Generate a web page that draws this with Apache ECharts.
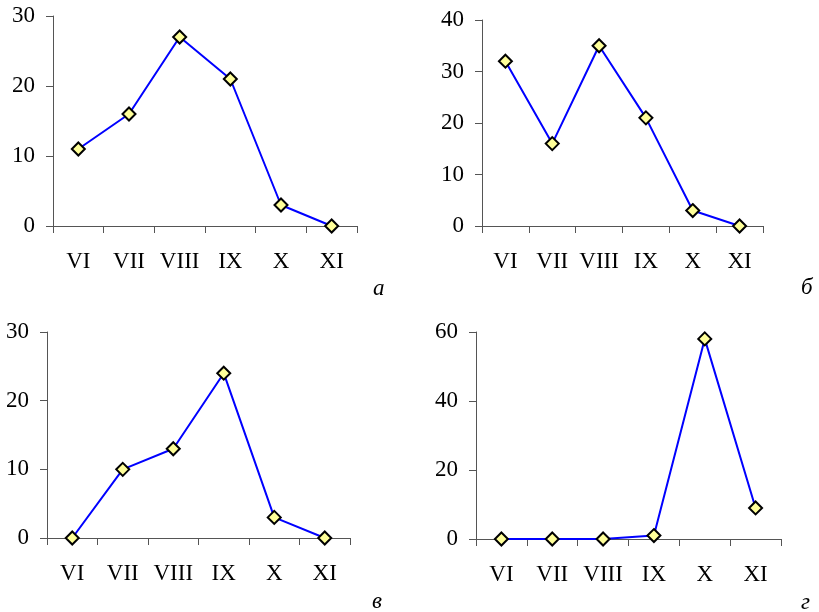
<!DOCTYPE html>
<html>
<head>
<meta charset="utf-8">
<script src="https://cdn.jsdelivr.net/npm/echarts@6/dist/echarts.min.js"></script>
<style>
html,body{margin:0;padding:0;background:#fff;}
#chart{width:819px;height:612px;}
</style>
</head>
<body>
<div id="chart"></div>
<script>
// ---- data ----
var months = ['VI', 'VII', 'VIII', 'IX', 'X', 'XI'];
var valuesA = [11, 16, 27, 21, 3, 0];
var valuesB = [32, 16, 35, 21, 3, 0];
var valuesV = [0, 10, 13, 24, 3, 0];
var valuesG = [0, 0, 0, 1, 58, 9];
var panelLetters = ['а', 'б', 'в', 'г'];
var yMax = [30, 40, 30, 60];
var yStep = [10, 10, 10, 20];

var seriesData = [valuesA, valuesB, valuesV, valuesG];
var grids = [
  {left: 53, top: 16, width: 304, height: 210},
  {left: 482, top: 20, width: 281, height: 206},
  {left: 47, top: 332, width: 303, height: 206},
  {left: 476, top: 332, width: 305, height: 207}
];
var letterPos = [[379, 289], [807, 288], [378, 602], [807, 603]];

var FONT = 'Times New Roman, Liberation Serif, serif';
var axisColor = '#555555';

var option = {
  backgroundColor: '#ffffff',
  animation: false,
  grid: grids.map(function (g) { return Object.assign({containLabel: false}, g); }),
  xAxis: grids.map(function (g, i) {
    return {
      type: 'category', gridIndex: i, data: months, boundaryGap: true,
      axisLine: {show: true, lineStyle: {color: axisColor, width: 1}},
      axisTick: {show: true, length: 7, interval: 0, lineStyle: {color: axisColor}},
      axisLabel: {color: '#000', fontFamily: FONT, fontSize: 23, margin: 24, interval: 0},
      splitLine: {show: false}
    };
  }),
  yAxis: grids.map(function (g, i) {
    return {
      type: 'value', gridIndex: i, min: 0, max: yMax[i], interval: yStep[i],
      axisLine: {show: true, lineStyle: {color: axisColor, width: 1}},
      axisTick: {show: true, length: 7, lineStyle: {color: axisColor}},
      axisLabel: {color: '#000', fontFamily: FONT, fontSize: 23, margin: 18},
      splitLine: {show: false}
    };
  }),
  series: seriesData.map(function (d, i) {
    return {
      type: 'line', xAxisIndex: i, yAxisIndex: i, data: d,
      symbol: 'diamond', symbolSize: 13,
      lineStyle: {color: '#0000FF', width: 2},
      itemStyle: {color: '#FFFF99', borderColor: '#000000', borderWidth: 2},
      z: 3
    };
  }),
  graphic: panelLetters.map(function (t, i) {
    return {
      type: 'text', left: letterPos[i][0] - 6, top: letterPos[i][1] - 12,
      style: {text: t, font: 'italic 23px Times New Roman, Liberation Serif, serif', fill: '#000'}
    };
  })
};

var chart = echarts.init(document.getElementById('chart'), null, {renderer: 'canvas'});
chart.setOption(option);
</script>
</body>
</html>
